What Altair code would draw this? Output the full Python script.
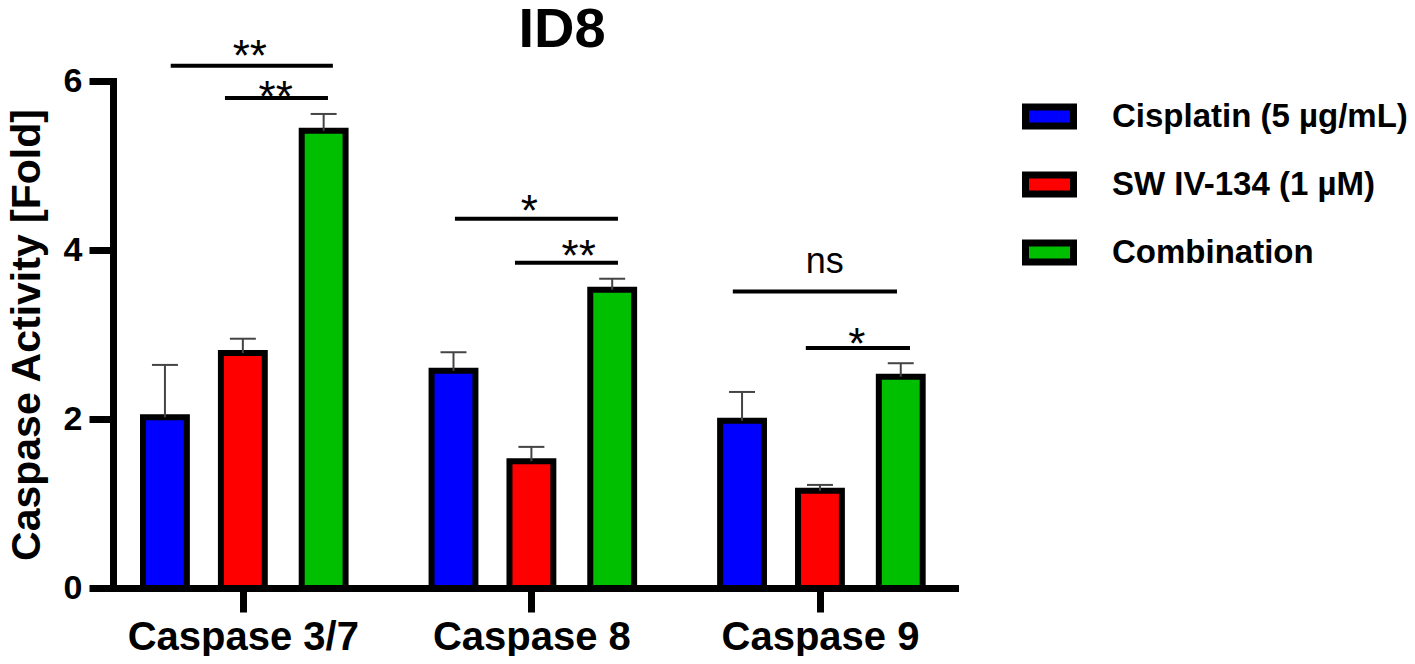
import altair as alt
import pandas as pd

# ---------------- data ----------------
groups = ["Caspase 3/7", "Caspase 8", "Caspase 9"]
series = ["Cisplatin (5 µg/mL)", "SW IV-134 (1 µM)", "Combination"]
colors = ["#0000FF", "#FF0000", "#00BF00"]

cisplatin = [2.02, 2.57, 1.98]
sw_iv_134 = [2.78, 1.50, 1.15]
combination = [5.41, 3.53, 2.50]

cisplatin_err = [0.62, 0.22, 0.34]
sw_iv_134_err = [0.17, 0.17, 0.07]
combination_err = [0.20, 0.13, 0.16]

# significance brackets (x in group units, y in fold units)
sig_x1 = [-0.25, -0.062, 0.735, 0.943, 1.698, 1.951]
sig_x2 = [0.312, 0.295, 1.300, 1.300, 2.267, 2.312]
sig_y = [6.18, 5.80, 4.37, 3.85, 3.51, 2.84]
sig_label = ["**", "**", "*", "**", "ns", "*"]
sig_text_x = [0.024, 0.114, 0.993, 1.164, 2.017, 2.128]
sig_text_y = [6.12, 5.63, 4.28, 3.75, 3.73, 2.71]

# ---------------- build tables ----------------
offsets = [-0.27, 0.0, 0.28]
half_w = 0.076
cap_w = 0.045
vals = [cisplatin, sw_iv_134, combination]
errs = [cisplatin_err, sw_iv_134_err, combination_err]

rows = []
for si, s in enumerate(series):
    for gi, g in enumerate(groups):
        c = gi + offsets[si]
        rows.append({
            "group": g, "series": s, "center": c,
            "x1": c - half_w, "x2": c + half_w,
            "cap1": c - cap_w, "cap2": c + cap_w,
            "value": vals[si][gi], "top": vals[si][gi] + errs[si][gi],
            "zero": 0.0,
        })
df = pd.DataFrame(rows)

sig = pd.DataFrame({"x1": sig_x1, "x2": sig_x2, "y": sig_y, "label": sig_label,
                    "tx": sig_text_x, "ty": sig_text_y})

FONT = "Liberation Sans"
xscale = alt.Scale(domain=[-0.45, 2.468], nice=False, zero=False)
yscale = alt.Scale(domain=[0, 6], nice=False)

label_expr = " : ".join(
    [f"datum.value == {i} ? '{g}'" for i, g in enumerate(groups)]) + " : ''"

x_axis = alt.Axis(values=[0, 1, 2], labelExpr=label_expr, title=None,
                  domainWidth=7, domainColor="black", domainCap="square",
                  tickWidth=7, tickSize=24, tickColor="black",
                  labelFont=FONT, labelFontSize=40, labelFontWeight="bold",
                  labelColor="black", labelPadding=5, labelLimit=600,
                  labelOverlap=False, grid=False)
y_axis = alt.Axis(values=[0, 2, 4, 6], title="Caspase Activity [Fold]",
                  titleFont=FONT, titleFontSize=41, titleFontWeight="bold",
                  titleColor="black", titlePadding=15,
                  domainWidth=7, domainColor="black", domainCap="square",
                  tickWidth=7, tickSize=24, tickColor="black",
                  labelFont=FONT, labelFontSize=34, labelFontWeight="bold",
                  labelColor="black", labelPadding=7, grid=False)


def X(field):
    return alt.X(field, scale=xscale, axis=x_axis)


def Y(field):
    return alt.Y(field, scale=yscale, axis=y_axis)


base = alt.Chart(df)

err_lines = base.mark_rule(color="#444444", strokeWidth=2).encode(
    x=X("center:Q"), y=Y("value:Q"), y2="top:Q",
)
err_caps = base.mark_rule(color="#444444", strokeWidth=2).encode(
    x=X("cap1:Q"), x2="cap2:Q", y=Y("top:Q"),
)
bars = base.mark_rect(stroke="black", strokeWidth=6, opacity=1).encode(
    x=X("x1:Q"), x2="x2:Q",
    y=Y("value:Q"), y2="zero:Q",
    fill=alt.Fill("series:N", scale=alt.Scale(domain=series, range=colors),
                  sort=series,
                  legend=alt.Legend(
                      title=None, orient="none", legendX=909, legendY=8,
                      symbolType="M-1,-0.4H1V0.4H-1Z", symbolSize=2304,
                      symbolStrokeColor="black", symbolStrokeWidth=7,
                      symbolOpacity=1,
                      labelFont=FONT, labelFontSize=33, labelFontWeight="bold",
                      labelColor="black", labelOffset=35, rowPadding=16,
                      labelLimit=500, padding=0)),
)

sig_base = alt.Chart(sig)
sig_lines = sig_base.mark_rule(color="black", strokeWidth=4).encode(
    x=X("x1:Q"), x2="x2:Q", y=Y("y:Q"),
)
stars = sig_base.mark_text(font=FONT, fontSize=44, color="black",
                           align="center", baseline="alphabetic").encode(
    x=X("tx:Q"), y=Y("ty:Q"), text="label:N",
).transform_filter("datum.label != 'ns'")
ns_text = sig_base.mark_text(font=FONT, fontSize=36, color="black",
                             align="center", baseline="alphabetic").encode(
    x=X("tx:Q"), y=Y("ty:Q"), text="label:N",
).transform_filter("datum.label == 'ns'")

chart = alt.layer(bars, err_lines, err_caps, sig_lines, stars, ns_text).properties(
    width=842, height=507,
    title=alt.TitleParams(text="ID8", font=FONT, fontSize=56, fontWeight="bold",
                          color="black", anchor="middle", dx=28, dy=27),
    autosize=alt.AutoSizeParams(type="none"),
    padding={"left": 105, "top": 73, "right": 452, "bottom": 68},
).configure_view(stroke=None)

chart.save("out.html", embed_options={"renderer": "svg", "actions": False})
